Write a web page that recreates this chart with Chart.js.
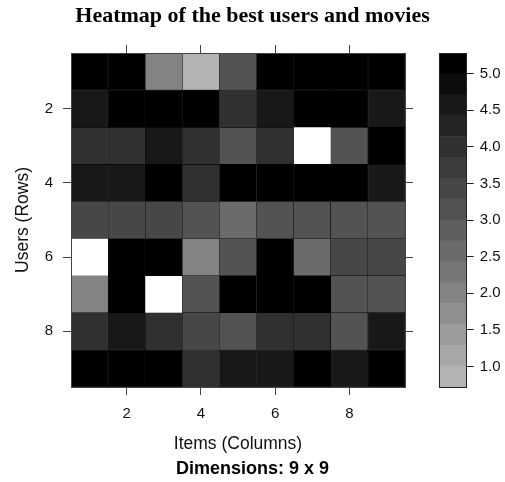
<!DOCTYPE html>
<html>
<head>
<meta charset="utf-8">
<script src="https://cdn.jsdelivr.net/npm/chart.js@4.4.1/dist/chart.umd.min.js"></script>
<style>
  html, body { margin: 0; padding: 0; background: #fff; }
  #wrap { position: relative; width: 505px; height: 482px; }
  #heat { position: absolute; left: 0; top: 0; }
  #key  { position: absolute; left: 430px; top: 0; }
</style>
</head>
<body>
<div id="wrap">
  <canvas id="heat" width="505" height="482"></canvas>
  <canvas id="key" width="75" height="482"></canvas>
</div>
<script>
// Users (rows) and items (columns)
const users = [1, 2, 3, 4, 5, 6, 7, 8, 9];
const items = [1, 2, 3, 4, 5, 6, 7, 8, 9];

// Ratings per user, one entry per item (null = not rated)
const user1 = [5, 5, 2, 1, 3, 5, 5, 5, 5];
const user2 = [4.5, 5, 5, 5, 4, 4.5, 5, 5, 4.5];
const user3 = [4, 4, 4.5, 4, 3, 4, null, 3, 5];
const user4 = [4.5, 4.5, 5, 4, 5, 5, 5, 5, 4.5];
const user5 = [3.5, 3.5, 3.5, 3, 2.5, 3, 3, 3, 3];
const user6 = [null, 5, 5, 2, 3, 5, 2.5, 3.5, 3.5];
const user7 = [2, 5, null, 3, 5, 5, 5, 3, 3];
const user8 = [4, 4.5, 4, 3.5, 3, 4, 4, 3, 4.5];
const user9 = [5, 5, 5, 4, 4.5, 4.5, 5, 4.5, 5];
const ratings = [user1, user2, user3, user4, user5, user6, user7, user8, user9];

// Tick labels
const axisTicks = [2, 4, 6, 8];
const keyTicks = [1.0, 1.5, 2.0, 2.5, 3.0, 3.5, 4.0, 4.5, 5.0];

// Colour key: value range and number of levels
const keyLow = 0.72;
const keyHigh = 5.28;
const keyLevels = 16;

const FONT = "'Liberation Sans', Arial, Helvetica, sans-serif";
const step = (keyHigh - keyLow) / keyLevels;

// grey ramp: lowest level light grey, highest level black
function shade(level) {
  const k = keyLevels - 1 - level;
  const g = Math.round(255 * 0.7 * k / (keyLevels - 1));
  return 'rgb(' + g + ',' + g + ',' + g + ')';
}
function levelOf(v) {
  const l = Math.floor((v - keyLow) / step + 1e-9);
  return Math.max(0, Math.min(keyLevels - 1, l));
}

const evenTicks = (scale) => { scale.ticks = axisTicks.map(v => ({ value: v })); };
const frame = { display: true, color: '#444', width: 1, z: 1 };
const tickGrid = { drawOnChartArea: false, drawTicks: true, tickLength: 8, color: '#444', tickColor: '#444', offset: false };
const tickFont = { family: FONT, size: 15 };
const titleFont = { family: FONT, size: 17.5 };

// Heatmap: one floating-bar dataset per user row
const heatDatasets = ratings.map((row, r) => {
  const cells = [];
  const colours = [];
  row.forEach((v, c) => {
    if (v === null) return;
    cells.push({ x: items[c], y: [users[r] - 0.5, users[r] + 0.5] });
    colours.push(shade(levelOf(v)));
  });
  return {
    label: 'User ' + users[r],
    data: cells,
    backgroundColor: colours,
    borderColor: '#000',
    borderWidth: 0.5,
    borderSkipped: false,
    inflateAmount: 0.25,
    grouped: false,
    barPercentage: 1,
    categoryPercentage: 1
  };
});

new Chart(document.getElementById('heat'), {
  type: 'bar',
  data: { datasets: heatDatasets },
  options: {
    responsive: false,
    animation: false,
    devicePixelRatio: 1,
    layout: { padding: 0 },
    plugins: {
      legend: { display: false },
      tooltip: { enabled: false },
      title: {
        display: true,
        text: 'Heatmap of the best users and movies',
        color: '#000',
        font: { family: "'Liberation Serif', 'Times New Roman', serif", size: 22, weight: 'bold', lineHeight: 1.2 },
        padding: { top: 3, bottom: 0 }
      },
      subtitle: {
        display: true,
        position: 'bottom',
        text: 'Dimensions: 9 x 9',
        color: '#000',
        font: { family: FONT, size: 18, weight: 'bold', lineHeight: 1.2 },
        padding: { top: 0, bottom: 2 }
      }
    },
    scales: {
      x: {
        type: 'linear', position: 'bottom', min: 0.5, max: 9.5, offset: false,
        afterBuildTicks: evenTicks,
        afterFit: (s) => { s.height = 71.4; },
        ticks: { font: tickFont, color: '#111', padding: 10, maxRotation: 0 },
        grid: tickGrid,
        border: frame,
        title: { display: true, text: 'Items (Columns)', color: '#111', font: titleFont, padding: { top: 0, bottom: 4 } }
      },
      xTop: {
        type: 'linear', position: 'top', min: 0.5, max: 9.5, offset: false,
        afterBuildTicks: evenTicks,
        afterFit: (s) => { s.height = 23.6; },
        ticks: { display: false },
        grid: tickGrid,
        border: frame
      },
      y: {
        type: 'linear', position: 'left', reverse: true, min: 0.5, max: 9.5, offset: false,
        afterBuildTicks: evenTicks,
        afterFit: (s) => { s.width = 71; },
        ticks: { font: tickFont, color: '#111', padding: 10 },
        grid: tickGrid,
        border: frame,
        title: { display: true, text: 'Users (Rows)', color: '#111', font: titleFont, padding: { top: 12.8, bottom: 0 } }
      },
      yRight: {
        type: 'linear', position: 'right', reverse: true, min: 0.5, max: 9.5, offset: false,
        afterBuildTicks: evenTicks,
        afterFit: (s) => { s.width = 100; },
        ticks: { display: false },
        grid: tickGrid,
        border: frame
      }
    }
  }
});

// Colour key: one floating bar per level
const keyDatasets = [];
for (let i = 0; i < keyLevels; i++) {
  keyDatasets.push({
    label: 'level ' + (i + 1),
    data: [[keyLow + i * step, keyLow + (i + 1) * step]],
    backgroundColor: shade(i),
    borderWidth: 0,
    grouped: false,
    barPercentage: 1,
    categoryPercentage: 1
  });
}
const keyFrame = { display: true, color: '#222', width: 1, z: 1 };

new Chart(document.getElementById('key'), {
  type: 'bar',
  data: { labels: ['key'], datasets: keyDatasets },
  options: {
    responsive: false,
    animation: false,
    devicePixelRatio: 1,
    layout: { padding: 0 },
    plugins: { legend: { display: false }, tooltip: { enabled: false }, title: { display: false } },
    scales: {
      x: {
        type: 'category', position: 'bottom', offset: true,
        afterFit: (s) => { s.height = 95; },
        ticks: { display: false }, grid: { display: false }, border: keyFrame
      },
      xTop: {
        type: 'category', position: 'top', offset: true,
        afterFit: (s) => { s.height = 53; },
        ticks: { display: false }, grid: { display: false }, border: keyFrame
      },
      y: {
        type: 'linear', position: 'left', min: keyLow, max: keyHigh,
        afterFit: (s) => { s.width = 9.3; },
        ticks: { display: false }, grid: { display: false }, border: keyFrame
      },
      yKey: {
        type: 'linear', position: 'right', min: keyLow, max: keyHigh,
        afterBuildTicks: (s) => { s.ticks = keyTicks.map(v => ({ value: v })); },
        afterFit: (s) => { s.width = 38.3; },
        ticks: { font: tickFont, color: '#111', padding: 6, callback: (v) => Number(v).toFixed(1) },
        grid: { drawOnChartArea: false, drawTicks: true, tickLength: 7, tickColor: '#222', color: '#222' },
        border: keyFrame
      }
    }
  }
});
</script>
</body>
</html>
